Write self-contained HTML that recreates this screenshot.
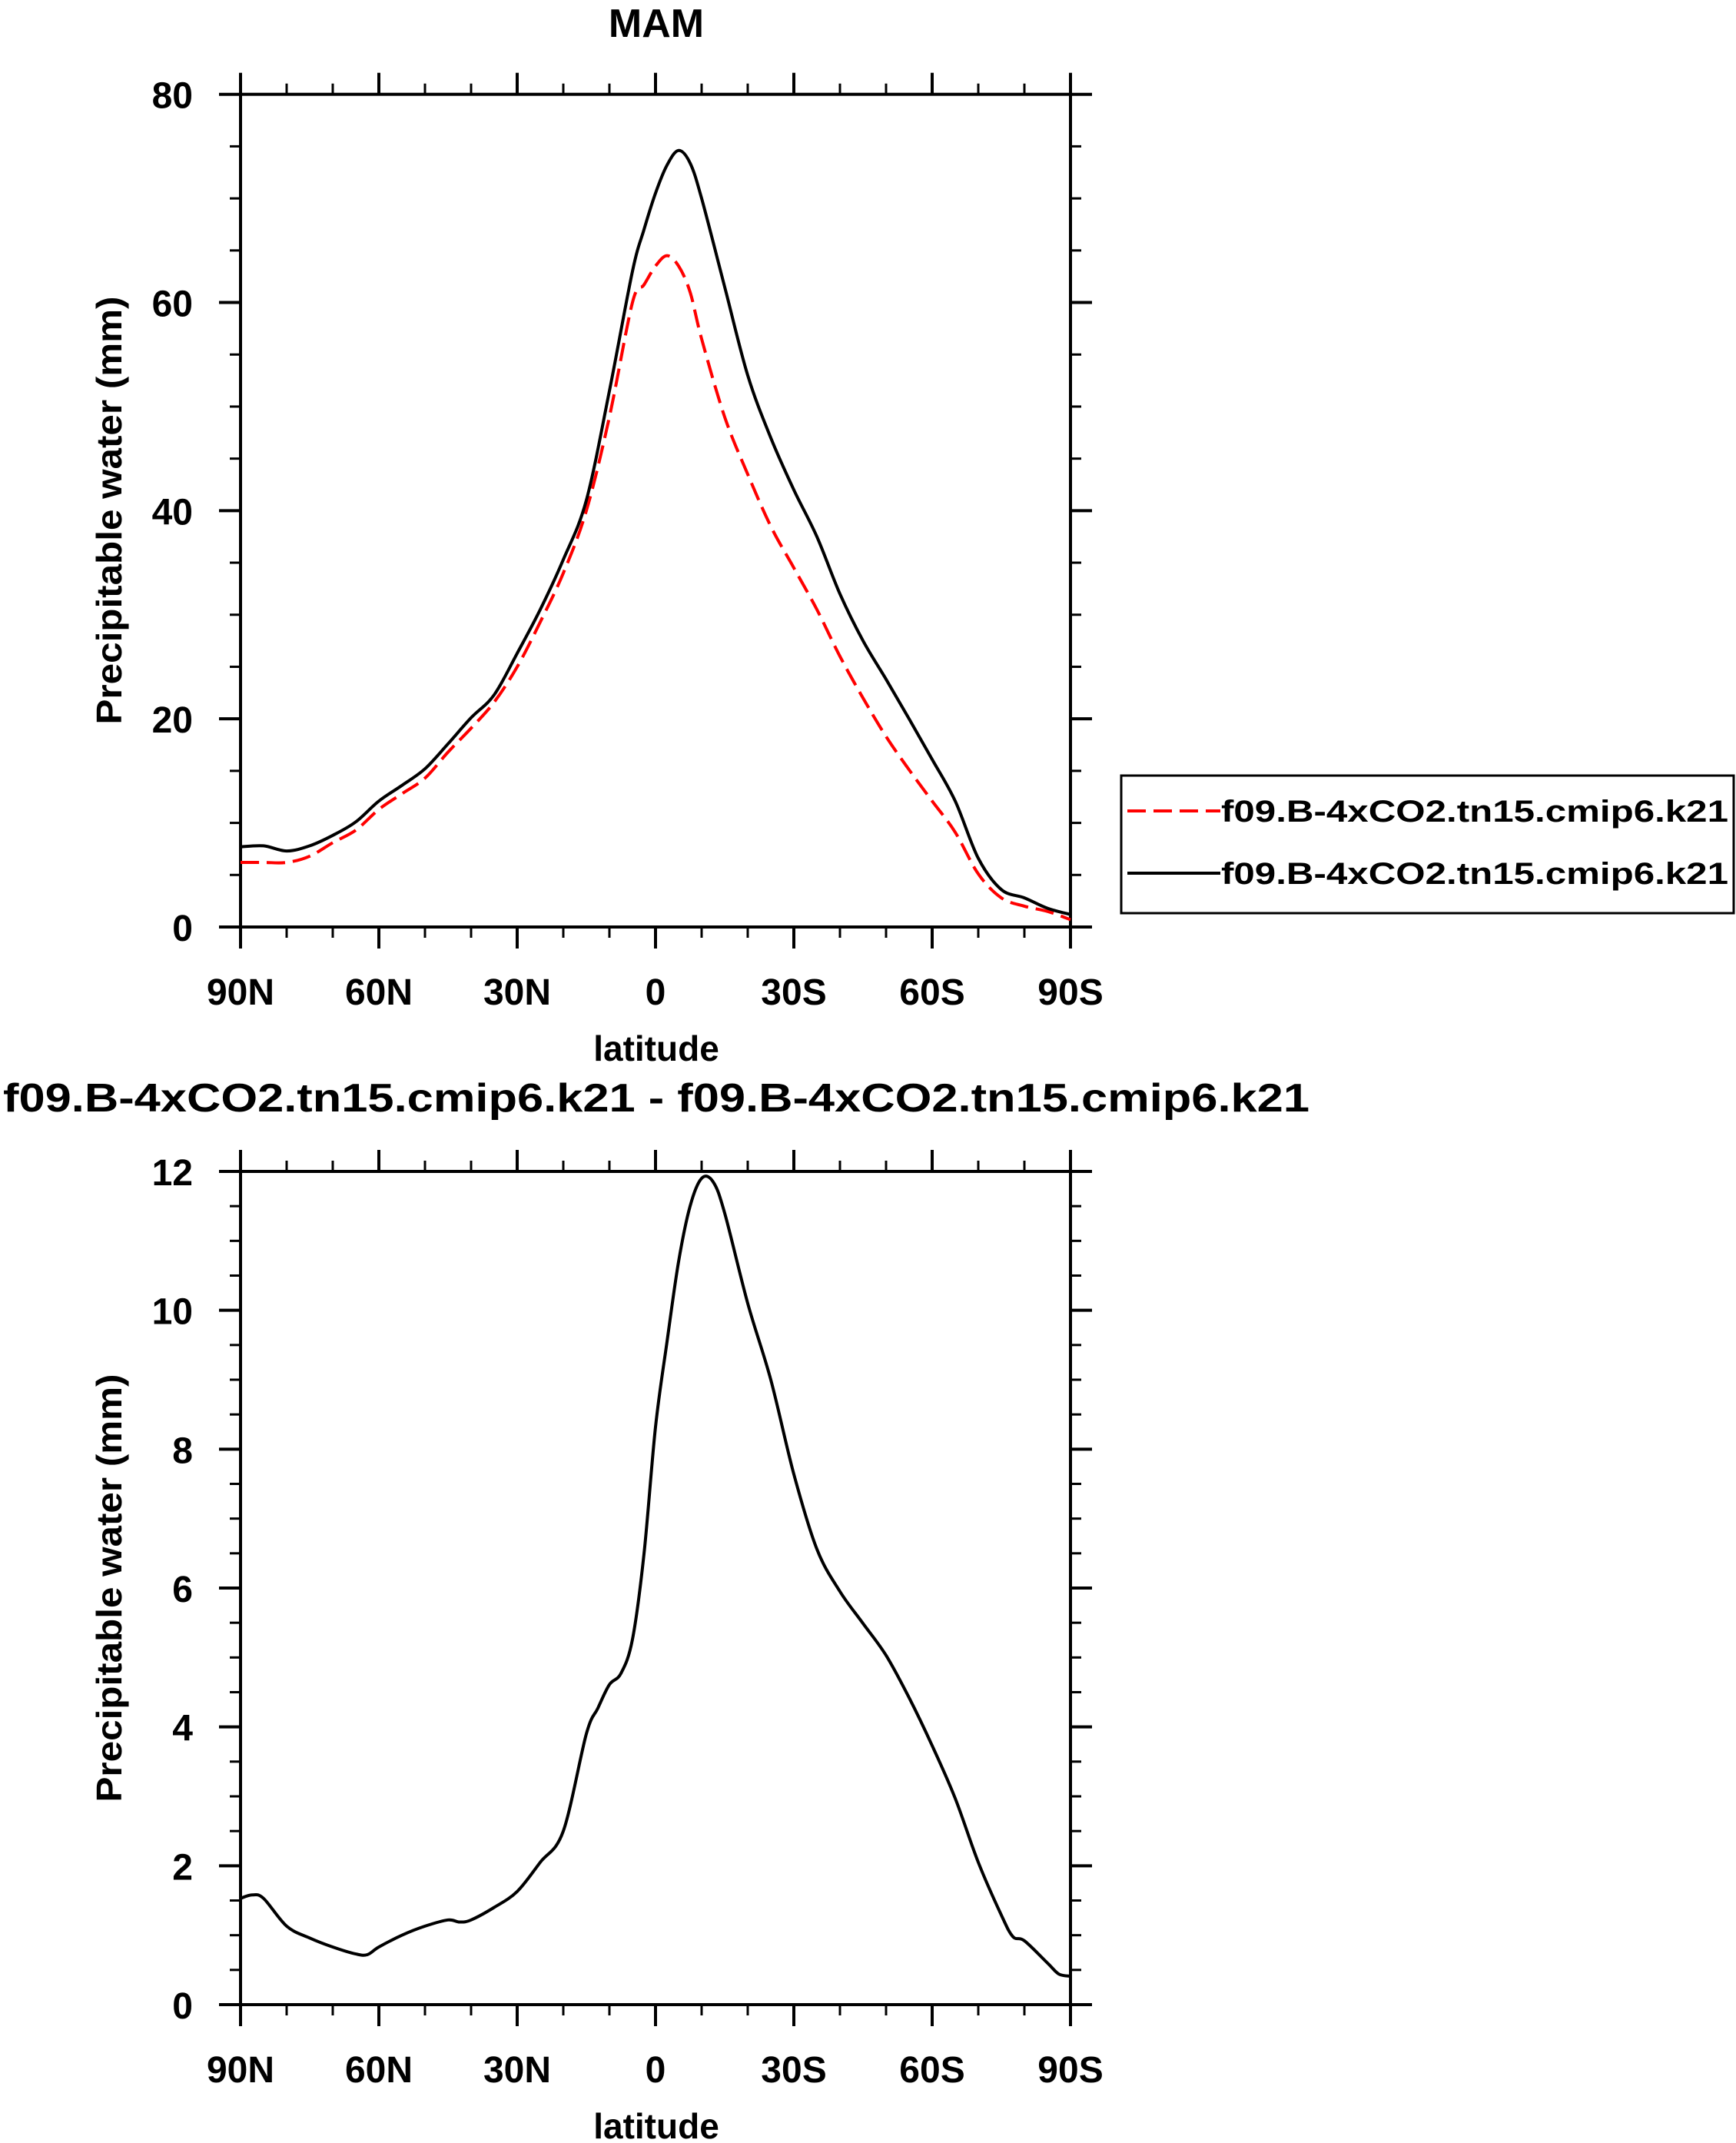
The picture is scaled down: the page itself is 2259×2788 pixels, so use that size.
<!DOCTYPE html>
<html><head><meta charset="utf-8"><style>
html,body{margin:0;padding:0;background:#fff}
svg{display:block}
text{font-family:"Liberation Sans",Arial,sans-serif;font-weight:bold;fill:#000}
</style></head><body>
<svg id="s" width="2259" height="2788" viewBox="0 0 2259 2788" xmlns="http://www.w3.org/2000/svg">
<text x="854" y="48" font-size="52" text-anchor="middle">MAM</text>
<text x="854" y="1446" font-size="52" text-anchor="middle" textLength="1700" lengthAdjust="spacingAndGlyphs">f09.B-4xCO2.tn15.cmip6.k21 - f09.B-4xCO2.tn15.cmip6.k21</text>
<text transform="translate(158,664) rotate(-90)" font-size="46" text-anchor="middle" textLength="557" lengthAdjust="spacingAndGlyphs">Precipitable water (mm)</text>
<text transform="translate(158,2066) rotate(-90)" font-size="46" text-anchor="middle" textLength="557" lengthAdjust="spacingAndGlyphs">Precipitable water (mm)</text>
<text x="854" y="1380" font-size="46" text-anchor="middle">latitude</text>
<text x="854" y="2782" font-size="46" text-anchor="middle">latitude</text>
<g>
<rect x="1459" y="1009" width="797" height="179" fill="none" stroke="#000" stroke-width="3"/>
<line x1="1467" y1="1055" x2="1588" y2="1055" stroke="#f00" stroke-width="4" stroke-dasharray="24,10"/>
<text x="1589" y="1069" font-size="40" textLength="660" lengthAdjust="spacingAndGlyphs">f09.B-4xCO2.tn15.cmip6.k21</text>
<line x1="1467" y1="1136" x2="1588" y2="1136" stroke="#000" stroke-width="4"/>
<text x="1589" y="1150" font-size="40" textLength="660" lengthAdjust="spacingAndGlyphs">f09.B-4xCO2.tn15.cmip6.k21</text>
</g>
</svg>
<script>
const lats = [90,85,80,75,70,65,60,55,50,45,40,35,30,25,20,15,10,5,2.5,0,-2.5,-5,-7.5,-10,-15,-20,-25,-30,-35,-40,-45,-50,-55,-60,-65,-70,-75,-80,-85,-90];
const blackVals = [7.7,7.8,7.3,7.8,8.8,10.1,12.1,13.6,15.2,17.6,20.1,22.3,26.3,30.5,35.3,41,51.5,63,67,70.5,73.2,74.6,73.4,70,61.5,53,47,42,37.5,32,27.5,23.8,20,16.1,12.1,6.6,3.6,2.8,1.8,1.2];
const redVals = [6.2,6.2,6.2,6.8,8.1,9.3,11.3,12.8,14.3,16.8,19.1,21.6,25,29.3,34,40,49,60,61.7,63.5,64.5,63.5,61,56.5,49,43.5,38.5,34.5,30.5,26,22,18.3,15.1,12.1,9.1,5.1,2.8,2.0,1.5,0.7];
const diffLats = [90,87.5,85,80,75,70,65,62.5,60,55,50,45,42.5,40,35,30,25,20,15,12.5,10,7.5,5,2.5,0,-2.5,-5,-7.5,-10,-12.5,-15,-20,-25,-30,-35,-40,-45,-50,-55,-60,-65,-70,-75,-77.5,-80,-85,-87.5,-90];
const diffVals = [1.53,1.58,1.53,1.13,0.96,0.83,0.73,0.72,0.83,1.0,1.13,1.22,1.19,1.22,1.4,1.63,2.05,2.5,3.9,4.27,4.61,4.77,5.26,6.49,8.32,9.55,10.7,11.5,11.9,11.85,11.4,10.1,9.0,7.64,6.56,5.95,5.49,5.03,4.42,3.73,2.97,2.05,1.29,0.98,0.92,0.6,0.44,0.41];
const xTickVals = [90,60,30,0,-30,-60,-90];
const xTickLabels = ["90N","60N","30N","0","30S","60S","90S"];
const topYTicks = [0,20,40,60,80];
const botYTicks = [0,2,4,6,8,10,12];

const NS="http://www.w3.org/2000/svg";
const svg=document.getElementById('s');
const L=313,R=1393;
function xs(lat){return L+(90-lat)/180*(R-L);}
function mk(tag,attrs,parent){const e=document.createElementNS(NS,tag);for(const k in attrs)e.setAttribute(k,attrs[k]);(parent||svg).appendChild(e);return e;}
function smooth(pts){let d="M"+pts[0][0]+","+pts[0][1];for(let i=0;i<pts.length-1;i++){const p0=pts[Math.max(0,i-1)],p1=pts[i],p2=pts[i+1],p3=pts[Math.min(pts.length-1,i+2)];const c1=[p1[0]+(p2[0]-p0[0])/6,p1[1]+(p2[1]-p0[1])/6],c2=[p2[0]-(p3[0]-p1[0])/6,p2[1]-(p3[1]-p1[1])/6];d+=" C"+c1[0].toFixed(1)+","+c1[1].toFixed(1)+" "+c2[0].toFixed(1)+","+c2[1].toFixed(1)+" "+p2[0].toFixed(1)+","+p2[1].toFixed(1);}return d;}
function panel(top,bot,ymax,yticks,minorStep,name){
  const ys=v=>bot-(v/ymax)*(bot-top);
  const g=mk('g',{});
  
  
  const box=mk('rect',{x:L,y:top,width:R-L,height:bot-top,fill:'none',stroke:'#000','stroke-width':4},g);
  
  
  for(let lat=90;lat>=-90;lat-=10){
    const major=lat%30===0,len=major?28:14,x=xs(lat);
    const t1=mk('line',{x1:x,x2:x,y1:bot,y2:bot+len,stroke:'#000','stroke-width':major?4:3},g);
    
    
    const t2=mk('line',{x1:x,x2:x,y1:top,y2:top-len,stroke:'#000','stroke-width':major?4:3},g);
    
    
  }
  xTickVals.forEach((v,i)=>{const t=mk('text',{x:xs(v),y:bot+101,'font-size':48,'text-anchor':'middle'},g);t.textContent=xTickLabels[i];
    
    });
  for(let v=0;v<=ymax+1e-9;v+=minorStep){
    const major=yticks.some(t=>Math.abs(t-v)<1e-6),len=major?28:14,y=ys(v);
    const a=mk('line',{x1:L,x2:L-len,y1:y,y2:y,stroke:'#000','stroke-width':major?4:3},g);
    
    
    const b=mk('line',{x1:R,x2:R+len,y1:y,y2:y,stroke:'#000','stroke-width':major?4:3},g);
    
    
  }
  yticks.forEach(v=>{const t=mk('text',{x:251,y:ys(v)+18,'font-size':48,'text-anchor':'end'},g);t.textContent=String(v);
    
    });
  return ys;
}
const ysTop=panel(122.7,1206,80,topYTicks,5,'top');
const ysBot=panel(1524,2608,12,botYTicks,0.5,'bottom');
const pRed=mk('path',{d:smooth(lats.map((l,i)=>[xs(l),ysTop(redVals[i])])),fill:'none',stroke:'#f00','stroke-width':4,'stroke-dasharray':'24,10'});


const pBlack=mk('path',{d:smooth(lats.map((l,i)=>[xs(l),ysTop(blackVals[i])])),fill:'none',stroke:'#000','stroke-width':4});


const pDiff=mk('path',{d:smooth(diffLats.map((l,i)=>[xs(l),ysBot(diffVals[i])])),fill:'none',stroke:'#000','stroke-width':4});


</script>
</body></html>
